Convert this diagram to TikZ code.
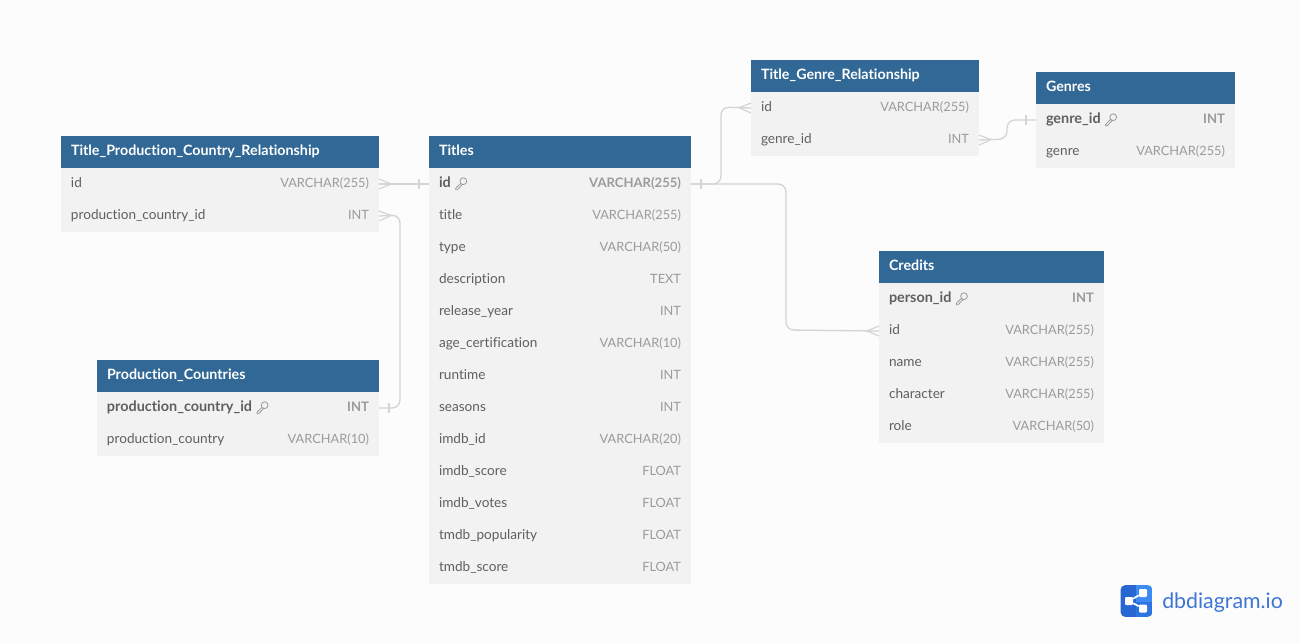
\documentclass[tikz,border=0pt]{standalone}
\usepackage{fontspec}
\setmainfont{Lato}[Ligatures=NoCommon]
\newfontfamily\logofont{Lato}
\usepackage{tikz}
\usetikzlibrary{matrix, positioning, decorations.markings}

\newlength\pxu
\setlength\pxu{0.75pt}
\definecolor{pagebg}{HTML}{FCFCFC}
\definecolor{headblue}{HTML}{316896}
\definecolor{rowgray}{HTML}{F2F2F2}
\definecolor{fieldgray}{HTML}{5F5F5F}
\definecolor{typegray}{HTML}{9B9B9B}
\definecolor{linkgray}{HTML}{D4D4D4}
\definecolor{logodark}{HTML}{2867D2}
\definecolor{logomid}{HTML}{2D74E0}
\definecolor{logolight}{HTML}{3D8BF2}

\newcommand{\keyicon}{\tikz[baseline=-3.5\pxu, x=1\pxu, y=1\pxu]{\draw[typegray, line width=0.6pt, line join=round] (3.2,3) circle (3.4) (0.6,0.8) -- (-4.4,-4) -- (-4.4,-5.6) -- (-2.8,-5.6) -- (2,-0.4);}}
\newcommand{\keyfield}[1]{{\fontsize{10.8pt}{12pt}\selectfont\bfseries #1} \keyicon}
\newcommand{\keytype}[1]{{\fontsize{9.8pt}{12pt}\selectfont\bfseries #1}}

\tikzset{
  tablehead/.style={fill=headblue, text=white, font=\fontsize{10.7pt}{12pt}\selectfont\bfseries, anchor=north west, align=left, minimum height=32\pxu, inner xsep=10\pxu, inner ysep=0pt, outer sep=0pt, text height=10.4\pxu, text depth=3\pxu, text width=#1},
  dbrows/.style 2 args={matrix of nodes, anchor=north west, inner sep=0pt, outer sep=0pt, column sep=-20\pxu, row sep=0pt,
    nodes={fill=rowgray, minimum height=32\pxu, inner xsep=10\pxu, inner ysep=0pt, outer sep=0pt, text height=10.4\pxu, text depth=3\pxu},
    column 1/.style={nodes={text=fieldgray, align=left, text width=#1, font=\fontsize{10.2pt}{12pt}\selectfont}},
    column 2/.style={nodes={text=typegray, align=right, text width=#2, font=\fontsize{9.6pt}{12pt}\selectfont}}},
  dblink/.style={draw=linkgray, line width=1pt, rounded corners=8\pxu,
    postaction={decorate, decoration={markings,
      mark=at position 7.5pt with {\draw[linkgray, line width=0.9pt, sharp corners] (0,-3.75pt) -- (0,3.75pt);},
      mark=at position -9pt with {\draw[linkgray, line width=0.9pt, sharp corners] (9pt,3.75pt) -- (0,0) -- (9pt,-3.75pt);}}}},
  logomark/.style={rectangle, rounded corners=1.2\pxu, fill=white, minimum size=#1, inner sep=0pt}
}

\begin{document}
\begin{tikzpicture}[x=1\pxu, y=-1\pxu]
\fill[pagebg] (0,0) rectangle (1300,643);
\useasboundingbox (0,0) rectangle (1300,643);

\node[tablehead=298\pxu] (CountryRelHead) at (61,136) {Title\_Production\_Country\_Relationship};
\matrix (CountryRel)[dbrows={208\pxu}{90\pxu}, at={(CountryRelHead.south west)}] {
id & VARCHAR(255) \\
production\_country\_id & INT \\
};

\node[tablehead=262\pxu] (CountriesHead) at (97,360) {Production\_Countries};
\matrix (Countries)[dbrows={172\pxu}{90\pxu}, at={(CountriesHead.south west)}] {
\keyfield{production\_country\_id} & \keytype{INT} \\
production\_country & VARCHAR(10) \\
};

\node[tablehead=242\pxu] (TitlesHead) at (429,136) {Titles};
\matrix (Titles)[dbrows={142\pxu}{100\pxu}, at={(TitlesHead.south west)}] {
\keyfield{id} & \keytype{VARCHAR(255)} \\
title & VARCHAR(255) \\
type & VARCHAR(50) \\
description & TEXT \\
release\_year & INT \\
age\_certification & VARCHAR(10) \\
runtime & INT \\
seasons & INT \\
imdb\_id & VARCHAR(20) \\
imdb\_score & FLOAT \\
imdb\_votes & FLOAT \\
tmdb\_popularity & FLOAT \\
tmdb\_score & FLOAT \\
};

\node[tablehead=208\pxu] (GenreRelHead) at (751,60) {Title\_Genre\_Relationship};
\matrix (GenreRel)[dbrows={108\pxu}{100\pxu}, at={(GenreRelHead.south west)}] {
id & VARCHAR(255) \\
genre\_id & INT \\
};

\node[tablehead=179\pxu] (GenresHead) at (1036,72) {Genres};
\matrix (Genres)[dbrows={84\pxu}{95\pxu}, at={(GenresHead.south west)}] {
\keyfield{genre\_id} & \keytype{INT} \\
genre & VARCHAR(255) \\
};

\node[tablehead=205\pxu] (CreditsHead) at (879,251) {Credits};
\matrix (Credits)[dbrows={110\pxu}{95\pxu}, at={(CreditsHead.south west)}] {
\keyfield{person\_id} & \keytype{INT} \\
id & VARCHAR(255) \\
name & VARCHAR(255) \\
character & VARCHAR(255) \\
role & VARCHAR(50) \\
};

\draw[dblink] (Titles-1-1.west) -- (CountryRel-1-2.east);
\draw[dblink] (Countries-1-2.east) -| (400,215) -- (CountryRel-2-2.east);
\draw[dblink] (Titles-1-2.east) -| (721,107) -- (GenreRel-1-1.west);
\draw[dblink] (Titles-1-2.east) -| (786,330) -- (Credits-2-1.west);
\draw[dblink] (Genres-1-1.west) -| (1007,139) -- (GenreRel-2-2.east);

% logo
\begin{scope}
\clip[rounded corners=5\pxu] (1120.5,585) rectangle (1152.5,617);
\fill[logodark] (1120,585) rectangle (1136,617);
\fill[logolight] (1136,585) rectangle (1153,602);
\fill[logomid] (1136,602) rectangle (1153,617);
\end{scope}
\node[logomark=8\pxu] (LogoHub) at (1129,601) {};
\node[logomark=8\pxu] (LogoTop) at (1143,593) {};
\node[logomark=8\pxu] (LogoBottom) at (1143,608.5) {};
\draw[white, line width=1.3pt] (LogoHub) -- (LogoTop);
\draw[white, line width=1.3pt] (LogoHub) -- (LogoBottom);
\node[anchor=base west, inner sep=0pt, text=logodark!90!white, font=\logofont\fontsize{16pt}{20pt}\selectfont] (LogoText) at (1162,608) {dbdiagram.io};
\end{tikzpicture}
\end{document}
